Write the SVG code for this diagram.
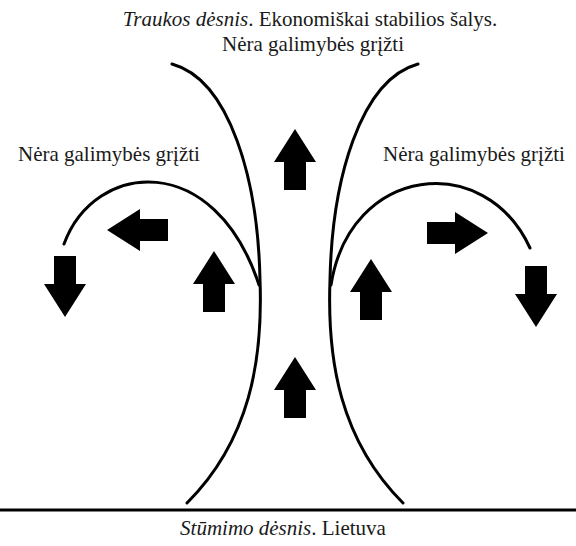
<svg xmlns="http://www.w3.org/2000/svg" width="576" height="546" viewBox="0 0 576 546">
<style>
.curve{fill:none;stroke:#000;stroke-width:3;stroke-linecap:round}
.base{fill:none;stroke:#000;stroke-width:3}
.arr{fill:#000}
.t{font-size:21px;fill:#1a1a1a}
.it{font-style:italic}
</style>
<defs>
<path id="arrow" d="M0,-30 L21,3 L11,3 L11,31 L-11,31 L-11,3 L-21,3 Z"/>
</defs>
<rect width="576" height="546" fill="#fff"/>
<g id="connectors">
<path class="curve" d="M172,64 C230,80 258,180 260,280 C263,360 250,440 187,503"/>
<path class="curve" d="M418,64 C360,80 332,180 330,280 C327,360 340,440 403,503"/>
<path class="curve" d="M64,244 C95,160 215,150 259,285"/>
<path class="curve" d="M331,285 C350,165 485,150 530,248"/>
<line class="base" x1="0" y1="510" x2="576" y2="510"/>
</g>
<g id="arrows">
<use class="arr" href="#arrow" transform="translate(295,159)"/>
<use class="arr" href="#arrow" transform="translate(295,387)"/>
<use class="arr" href="#arrow" transform="translate(214,281)"/>
<use class="arr" href="#arrow" transform="translate(371,289)"/>
<use class="arr" href="#arrow" transform="translate(65,287) rotate(180)"/>
<use class="arr" href="#arrow" transform="translate(536,297) rotate(180)"/>
<use class="arr" href="#arrow" transform="translate(137,230) rotate(-90)"/>
<use class="arr" href="#arrow" transform="translate(458,233) rotate(90)"/>
</g>
<g id="title">
<text font-family="Liberation Serif, serif" class="t" x="310" y="26" text-anchor="middle"><tspan class="it">Traukos dėsnis</tspan>. Ekonomiškai stabilios šalys.</text>
<text font-family="Liberation Serif, serif" class="t" x="313" y="51" text-anchor="middle">Nėra galimybės grįžti</text>
</g>
<g id="label-left"><text font-family="Liberation Serif, serif" class="t" x="18" y="161">Nėra galimybės grįžti</text></g>
<g id="label-right"><text font-family="Liberation Serif, serif" class="t" x="383" y="161">Nėra galimybės grįžti</text></g>
<g id="label-bottom"><text font-family="Liberation Serif, serif" class="t" x="283" y="535" text-anchor="middle"><tspan class="it">Stūmimo dėsnis</tspan>. Lietuva</text></g>
</svg>
